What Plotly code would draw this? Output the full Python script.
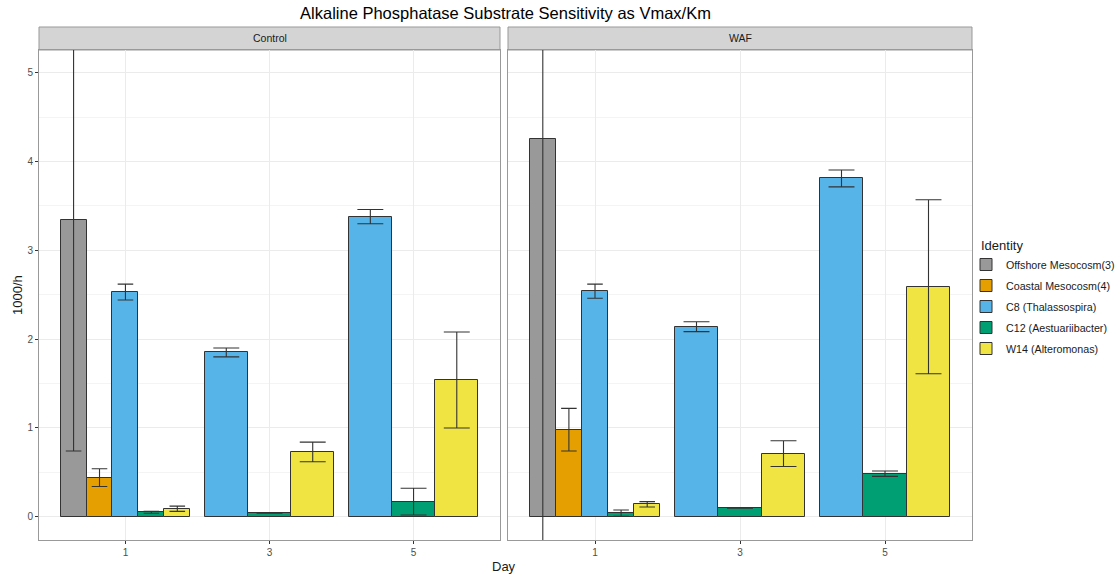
import plotly.graph_objects as go

# ---------------- data ----------------
days = ["1", "3", "5"]
facets = ["Control", "WAF"]
identities = ["Offshore Mesocosm(3)", "Coastal Mesocosm(4)", "C8 (Thalassospira)",
              "C12 (Aestuariibacter)", "W14 (Alteromonas)"]
colors = ["#999999", "#E69F00", "#56B4E9", "#009E73", "#F0E442"]

# Control facet (mean, standard error) per day 1, 3, 5
ctrl_offshore = [3.34, None, None]
ctrl_offshore_se = [2.60, None, None]
ctrl_coastal = [0.44, None, None]
ctrl_coastal_se = [0.10, None, None]
ctrl_c8 = [2.53, 1.85, 3.38]
ctrl_c8_se = [0.09, 0.05, 0.08]
ctrl_c12 = [0.05, 0.04, 0.17]
ctrl_c12_se = [0.01, 0.0, 0.15]
ctrl_w14 = [0.09, 0.73, 1.54]
ctrl_w14_se = [0.03, 0.11, 0.54]

# WAF facet
waf_offshore = [4.25, None, None]
waf_offshore_se = [4.70, None, None]
waf_coastal = [0.98, None, None]
waf_coastal_se = [0.24, None, None]
waf_c8 = [2.54, 2.14, 3.81]
waf_c8_se = [0.08, 0.055, 0.095]
waf_c12 = [0.04, 0.095, 0.485]
waf_c12_se = [0.035, 0.0, 0.03]
waf_w14 = [0.14, 0.71, 2.59]
waf_w14_se = [0.03, 0.145, 0.98]

control = [(ctrl_offshore, ctrl_offshore_se), (ctrl_coastal, ctrl_coastal_se),
           (ctrl_c8, ctrl_c8_se), (ctrl_c12, ctrl_c12_se), (ctrl_w14, ctrl_w14_se)]
waf = [(waf_offshore, waf_offshore_se), (waf_coastal, waf_coastal_se),
       (waf_c8, waf_c8_se), (waf_c12, waf_c12_se), (waf_w14, waf_w14_se)]

# ---------------- layout geometry ----------------
W, H = 1118, 577
ML, MR, MT, MB = 39, 146, 27, 37
PW = W - ML - MR
PH = H - MT - MB
STRIP = 23
ydom_top = (PH - STRIP) / PH
x1_dom = [0, 461 / PW]
x2_dom = [469 / PW, 1]
XR = [0.4, 3.6]
YR = [-0.262, 5.256]
px_per_unit = 461 / (XR[1] - XR[0])

FONT = "Liberation Sans, Arial, sans-serif"
fig = go.Figure()

for fi, series in enumerate([control, waf]):
    xa = "x" if fi == 0 else "x2"
    ya = "y" if fi == 0 else "y2"
    # dodge positions (ggplot position_dodge, width 0.9)
    pos = [[None] * 3 for _ in identities]
    wid = [[None] * 3 for _ in identities]
    for d in range(3):
        present = [k for k in range(len(identities)) if series[k][0][d] is not None]
        n = len(present)
        w = 0.9 / n
        for j, k in enumerate(present):
            pos[k][d] = (d + 1) - 0.45 + w * (j + 0.5)
            wid[k][d] = w
    for k, name in enumerate(identities):
        vals, ses = series[k]
        idx = [d for d in range(3) if vals[d] is not None]
        fig.add_trace(go.Bar(
            x=[pos[k][d] for d in idx], y=[vals[d] for d in idx],
            width=[wid[k][d] for d in idx],
            marker=dict(color=colors[k], line=dict(color="#333333", width=1)),
            name=name, legendgroup=name, showlegend=(fi == 0),
            xaxis=xa, yaxis=ya, hoverinfo="skip"))
        for d in idx:
            fig.add_trace(go.Scatter(
                x=[pos[k][d]], y=[vals[d]], mode="markers",
                marker=dict(size=1, opacity=0),
                error_y=dict(type="data", array=[ses[d]], visible=True,
                             color="#333333", thickness=1.1,
                             width=0.3 * wid[k][d] * px_per_unit),
                showlegend=False, xaxis=xa, yaxis=ya, hoverinfo="skip"))

axis_common = dict(showline=True, linecolor="#999999", linewidth=1, mirror=True,
                   zeroline=False, gridcolor="#EBEBEB", gridwidth=1)
fig.update_layout(
    width=W, height=H,
    margin=dict(l=ML, r=MR, t=MT, b=MB, autoexpand=False),
    paper_bgcolor="white", plot_bgcolor="white",
    barmode="overlay", bargap=0,
    font=dict(family=FONT, color="#1a1a1a"),
    title=dict(text="Alkaline Phosphatase Substrate Sensitivity as Vmax/Km",
               x=(ML + PW / 2) / W, xanchor="center", y=1 - 13 / H, yanchor="middle",
               font=dict(size=16.5, color="black")),
    xaxis=dict(domain=x1_dom, range=XR, tickvals=[1, 2, 3], ticktext=days,
               ticks="outside", ticklen=3, tickcolor="#333333",
               tickfont=dict(size=10, color="#4d4d4d"), anchor="y", **axis_common),
    xaxis2=dict(domain=x2_dom, range=XR, tickvals=[1, 2, 3], ticktext=days,
                ticks="outside", ticklen=3, tickcolor="#333333",
                tickfont=dict(size=10, color="#4d4d4d"), anchor="y2", **axis_common),
    yaxis=dict(domain=[0, ydom_top], range=YR, dtick=1, tick0=0,
               ticks="outside", ticklen=3, tickcolor="#333333",
               tickfont=dict(size=10, color="#4d4d4d"), anchor="x",
               minor=dict(dtick=0.5, showgrid=True, gridcolor="#F4F4F4"),
               **axis_common),
    yaxis2=dict(domain=[0, ydom_top], range=YR, dtick=1, tick0=0,
                showticklabels=False, ticks="", anchor="x2",
                minor=dict(dtick=0.5, showgrid=True, gridcolor="#F4F4F4"),
                **axis_common),
    legend=dict(x=(966 - ML) / PW, xanchor="left", y=(H - MB - 250) / PH, yanchor="top",
                font=dict(size=10.7, color="#1a1a1a"), tracegroupgap=2,
                bgcolor="rgba(0,0,0,0)"),
)

# legend title
fig.add_annotation(text="Identity", xref="paper", yref="paper",
                   x=(979 - ML) / PW, y=(H - MB - 245) / PH,
                   showarrow=False, font=dict(size=13, color="#1a1a1a"),
                   xanchor="left", yanchor="middle")

# facet strips
for fi, dom in enumerate([x1_dom, x2_dom]):
    fig.add_shape(type="rect", xref="paper", yref="paper",
                  x0=dom[0], x1=dom[1], y0=ydom_top, y1=1,
                  fillcolor="#D4D4D4", line=dict(color="#999999", width=1), layer="below")
    fig.add_annotation(text=facets[fi], xref="paper", yref="paper",
                       x=(dom[0] + dom[1]) / 2, y=(ydom_top + 1) / 2,
                       showarrow=False, font=dict(size=10.5, color="#1a1a1a"),
                       xanchor="center", yanchor="middle")

# axis titles
fig.add_annotation(text="Day", xref="paper", yref="paper",
                   x=(504 - ML) / PW, y=-(566 - (H - MB)) / PH,
                   showarrow=False, font=dict(size=13, color="#1a1a1a"),
                   xanchor="center", yanchor="middle")
fig.add_annotation(text="1000/h", xref="paper", yref="paper",
                   x=-(ML - 17) / PW, y=(H - MB - 295) / PH, textangle=-90,
                   showarrow=False, font=dict(size=13, color="#1a1a1a"),
                   xanchor="center", yanchor="middle")

fig.write_html("out.html")
